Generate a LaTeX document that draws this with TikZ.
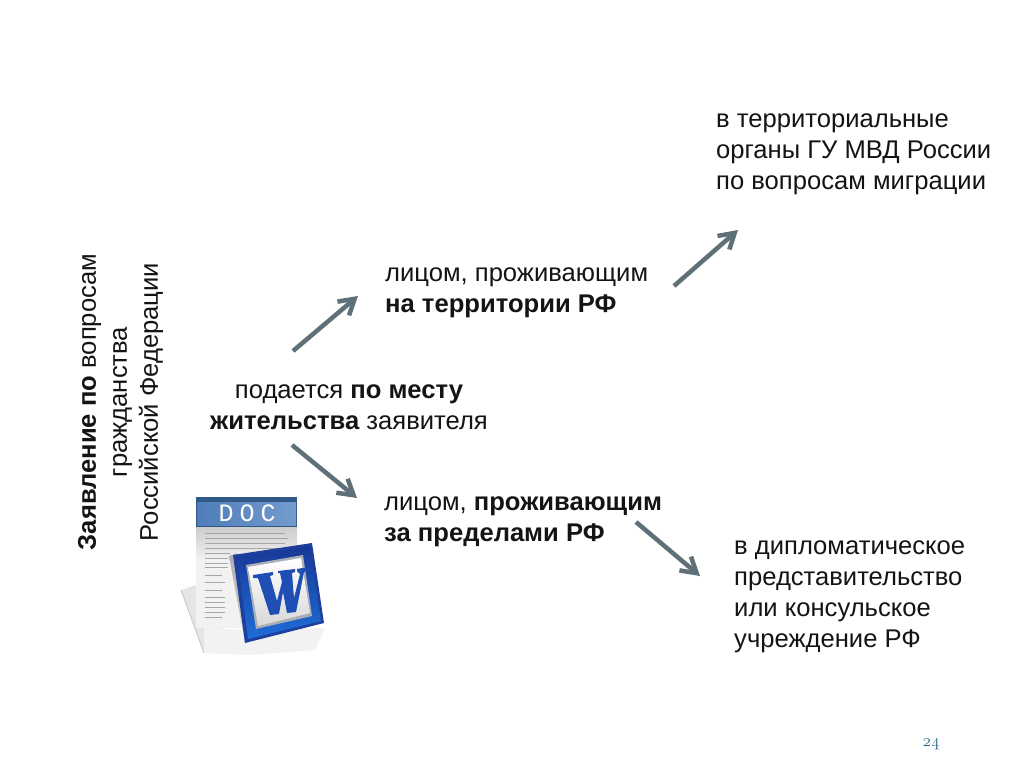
\documentclass[tikz,border=0pt]{standalone}
\usepackage{fontspec}
\setmainfont{Liberation Sans}
\newfontfamily\numfont{Latin Modern Roman}
\newfontfamily\docfont{Liberation Mono}
\usetikzlibrary{arrows.meta,calc}
\definecolor{arrowgray}{HTML}{5F7079}
\definecolor{txt}{HTML}{141414}
\definecolor{numteal}{HTML}{0F5A78}
\definecolor{hdrdark}{HTML}{2F5A88}
\definecolor{wblue}{HTML}{1E3F9E}
\definecolor{wgray}{HTML}{A9AFB8}
\definecolor{wletter}{HTML}{1F4EB5}
\definecolor{hdra}{RGB}{80,125,185}
\definecolor{hdrb}{RGB}{115,155,205}
\definecolor{boxa}{RGB}{25,55,150}
\definecolor{boxb}{RGB}{30,110,215}
\tikzset{
 x=1pt,y=-1pt,
 label text/.style={inner sep=0pt,align=left,anchor=base west,text=txt,font=\fontsize{25.6}{31}\selectfont},
 center text/.style={inner sep=0pt,align=center,text=txt,font=\fontsize{25.6}{30.5}\selectfont},
 flow/.style={draw=arrowgray,line width=4.5pt,-{Straight Barb[length=15pt,width=18pt,line width=4.5pt]}},
 docline/.style={draw=gray!70,line width=1pt},
}
\begin{document}
\begin{tikzpicture}
\useasboundingbox (0,0) rectangle (1024,767);
\fill[white] (0,0) rectangle (1024,767);

% texts
\node[label text] (ter) at (716,190) {в территориальные\\органы ГУ МВД России\\по вопросам миграции};
\node[label text,font=\fontsize{25.6}{30.5}\selectfont] (liv) at (385,312) {лицом, проживающим\\\textbf{на территории РФ}};
\node[center text] (sub) at (349,407) {подается \textbf{по месту}\\\textbf{жительства} заявителя};
\node[label text] (abr) at (384,541) {лицом, \textbf{проживающим}\\\textbf{за пределами РФ}};
\node[label text] (dip) at (734,647) {в дипломатическое\\представительство\\или консульское\\учреждение РФ};
\node[center text,rotate=90,font=\fontsize{25.6}{31}\selectfont] (zay) at (120.5,402) {\textbf{Заявление по} вопросам\\гражданства\\Российской Федерации};
\node[inner sep=0pt,text=numteal,font=\fontsize{17}{17}\selectfont\numfont] (num) at (931,744) {\oldstylenums{24}};

% connectors
\coordinate (a1s) at (293,351); \coordinate (a1e) at (358,296);
\coordinate (a2s) at (674,286); \coordinate (a2e) at (738,230);
\coordinate (a3s) at (292,445); \coordinate (a3e) at (357,498);
\coordinate (a4s) at (636,522); \coordinate (a4e) at (700,576);
\draw[flow] (a1s) -- (a1e);
\draw[flow] (a2s) -- (a2e);
\draw[flow] (a3s) -- (a3e);
\draw[flow] (a4s) -- (a4e);

% document icon: shadow
\fill[gray!20] (181,590) -- (196,585) -- (230,640) -- (204,653) -- cycle;
\draw[gray!45,line width=.8pt] (181,590) -- (204,653);
\fill[gray!10] (204,628) -- (250,630) -- (325,628) -- (315,650) -- (250,655) -- (204,653) -- cycle;
% page
\fill[gray!10] (196,527) rectangle (297,628);
\shade[top color=gray!40,bottom color=gray!10] (196,527) rectangle (297,560);
% header
\fill[hdrdark] (196,497) rectangle (297,527);
\shade[left color=hdra,right color=hdrb] (197,502) rectangle (296,525);
\node[inner sep=0pt,text=white,font=\fontsize{25}{25}\selectfont\docfont] (docw) at (247,513) {D\hspace{6pt}O\hspace{6pt}C};
% page text
\foreach \yy/\xa/\xb in {533/205/285,538/205/288,543/205/285,548/205/282,553/205/230,558/205/228,563/205/228,567/205/228,575/205/222,582/205/225,590/205/222,597/205/225,602/205/225,607/205/225,612/205/225,617/205/222}
  \draw[docline] (\xa,\yy) -- (\xb,\yy);
% W box
\shade[left color=gray!65,right color=gray!25] (229,556) -- (237,553) -- (251,637) -- (245,643) -- cycle;
\fill[wblue] (233,555) -- (312,543) -- (324,623) -- (245,643) -- cycle;
\shade[top color=boxa,bottom color=boxb] (237,557) -- (310,546) -- (321,621) -- (248,639) -- cycle;
\fill[wgray] (246,565) -- (303,555) -- (312,616) -- (256,629) -- cycle;
\shade[top color=white,bottom color=gray!30] (248,567) -- (301,558) -- (310,613) -- (258,626) -- cycle;
\fill[wletter] (253,575) -- (273,572) -- (273,575) -- (270,576) -- (277,601) -- (282,582) -- (280,573) -- (278,573) -- (278,571) -- (295,569) -- (295,572) -- (292,573) -- (294,598) -- (300,574) -- (297,571) -- (297,569) -- (308,567) -- (308,570) -- (304,572) -- (296,612) -- (287,613) -- (283,592) -- (279,614) -- (270,615) -- (258,578) -- (253,578) -- cycle;
\end{tikzpicture}
\end{document}
